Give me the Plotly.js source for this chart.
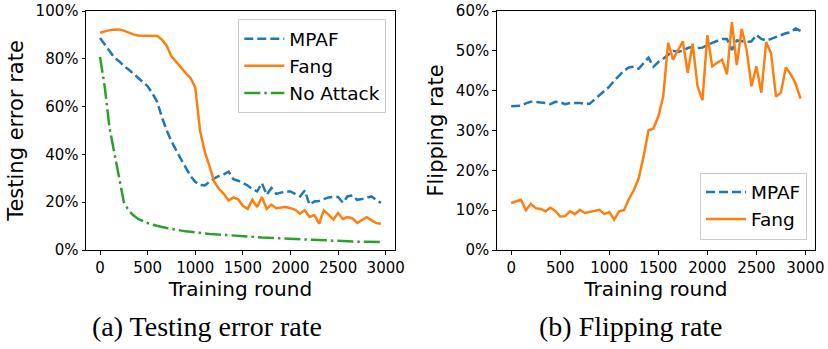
<!DOCTYPE html>
<html>
<head>
<meta charset="utf-8">
<script src="https://cdn.plot.ly/plotly-3.0.1.min.js"></script>
<style>html,body{margin:0;padding:0;background:#fff;}#chart{width:828px;height:349px;}</style>
</head>
<body>
<div id="chart"></div>
<script>
const rounds = [0,50,100,150,200,250,300,350,400,450,500,550,600,650,700,750,800,850,900,950,
  1000,1050,1100,1150,1200,1250,1300,1350,1400,1450,1500,1550,1600,1650,1700,1750,1800,1850,1900,1950,
  2000,2050,2100,2150,2200,2250,2300,2350,2400,2450,2500,2550,2600,2650,2700,2750,2800,2850,2900,2950];

// (a) Testing error rate
const errMPAF = [0.887,0.86,0.83,0.805,0.79,0.77,0.755,0.738,0.722,0.706,0.685,0.655,0.62,0.555,0.5,0.455,0.415,0.38,0.345,0.31,
  0.285,0.272,0.27,0.287,0.3,0.31,0.317,0.328,0.296,0.29,0.28,0.27,0.255,0.245,0.28,0.231,0.259,0.235,0.24,0.245,
  0.245,0.235,0.224,0.249,0.19,0.203,0.205,0.213,0.22,0.222,0.222,0.198,0.225,0.228,0.21,0.213,0.217,0.224,0.21,0.197];
const errFang = [0.909,0.915,0.92,0.922,0.923,0.918,0.91,0.902,0.898,0.897,0.897,0.897,0.895,0.88,0.855,0.81,0.785,0.76,0.74,0.72,
  0.68,0.5,0.41,0.35,0.285,0.255,0.235,0.207,0.22,0.212,0.185,0.172,0.21,0.18,0.222,0.172,0.19,0.175,0.176,0.18,
  0.175,0.168,0.152,0.166,0.138,0.146,0.11,0.166,0.148,0.127,0.155,0.13,0.138,0.132,0.113,0.125,0.137,0.125,0.113,0.11];
const errNoAttack = [0.808,0.68,0.51,0.41,0.3,0.2,0.165,0.145,0.13,0.12,0.113,0.106,0.1,0.096,0.092,0.088,0.085,0.081,0.078,0.076,
  0.073,0.071,0.069,0.067,0.066,0.065,0.063,0.062,0.06,0.058,0.057,0.056,0.055,0.054,0.052,0.051,0.05,0.049,0.048,0.047,
  0.046,0.045,0.044,0.043,0.042,0.041,0.04,0.039,0.038,0.038,0.037,0.036,0.036,0.035,0.035,0.034,0.034,0.034,0.034,0.033];

// (b) Flipping rate
const flipMPAF = [0.361,0.361,0.362,0.368,0.372,0.372,0.371,0.369,0.366,0.372,0.371,0.366,0.369,0.369,0.369,0.367,0.367,0.378,0.388,0.398,
  0.41,0.425,0.437,0.45,0.458,0.46,0.455,0.468,0.483,0.46,0.472,0.48,0.49,0.5,0.498,0.5,0.507,0.51,0.507,0.508,
  0.515,0.52,0.527,0.53,0.53,0.502,0.526,0.524,0.522,0.524,0.54,0.53,0.526,0.53,0.535,0.54,0.544,0.547,0.556,0.55];
const flipFang = [0.118,0.122,0.126,0.1,0.116,0.105,0.103,0.097,0.106,0.098,0.084,0.085,0.097,0.09,0.101,0.093,0.096,0.098,0.101,0.09,
  0.095,0.076,0.097,0.1,0.128,0.15,0.18,0.235,0.3,0.305,0.335,0.385,0.52,0.478,0.5,0.524,0.445,0.518,0.411,0.376,
  0.539,0.461,0.47,0.478,0.441,0.572,0.464,0.555,0.503,0.411,0.461,0.395,0.522,0.493,0.385,0.395,0.458,0.441,0.418,0.38];

const xTicks = [0,500,1000,1500,2000,2500,3000];
const xTitle = "Training round";
const captions = ["(a) Testing error rate", "(b) Flipping rate"];

const C_BLUE = "#1f77b4", C_ORANGE = "#ff7f0e", C_GREEN = "#2ca02c";
const LW = 2.5;
const DASH = "9px,4px";
const DASHDOT = "16px,4px,2.5px,4px";
const FONT = "DejaVu Sans";

const traces = [
  {x: rounds, y: errMPAF, name: "MPAF", type: "scatter", mode: "lines", xaxis: "x", yaxis: "y", legend: "legend",
   line: {color: C_BLUE, width: LW, dash: DASH}},
  {x: rounds, y: errFang, name: "Fang", type: "scatter", mode: "lines", xaxis: "x", yaxis: "y", legend: "legend",
   line: {color: C_ORANGE, width: LW}},
  {x: rounds, y: errNoAttack, name: "No Attack", type: "scatter", mode: "lines", xaxis: "x", yaxis: "y", legend: "legend",
   line: {color: C_GREEN, width: LW, dash: DASHDOT}},
  {x: rounds, y: flipMPAF, name: "MPAF", type: "scatter", mode: "lines", xaxis: "x2", yaxis: "y2", legend: "legend2",
   line: {color: C_BLUE, width: LW, dash: DASH}},
  {x: rounds, y: flipFang, name: "Fang", type: "scatter", mode: "lines", xaxis: "x2", yaxis: "y2", legend: "legend2",
   line: {color: C_ORANGE, width: LW}}
];

const W = 828, H = 349;
const L = 85.5, R = 13, T = 10.7, B = 98.5;
const PW = W - L - R, PH = H - T - B;
function fx(px){ return (px - L) / PW; }
function fy(py){ return 1 - (py - T) / PH; }

const baseX = {
  range: [-147.5, 3097.5], tickvals: xTicks, ticktext: xTicks.map(String),
  showgrid: false, zeroline: false, showline: true, linecolor: "#000", linewidth: 1, mirror: true,
  ticks: "outside", ticklen: 3.5, tickwidth: 1, tickcolor: "#000",
  tickfont: {family: FONT, size: 15, color: "#000"},
  title: {text: xTitle, font: {family: FONT, size: 20, color: "#000"}, standoff: 3}
};
const baseY = {
  showgrid: false, zeroline: false, showline: true, linecolor: "#000", linewidth: 1, mirror: true,
  ticks: "outside", ticklen: 3.5, tickwidth: 1, tickcolor: "#000", tickformat: ".0%",
  tickfont: {family: FONT, size: 15, color: "#000"}
};

const legendBase = {
  bgcolor: "rgba(255,255,255,0.8)", bordercolor: "#cccccc", borderwidth: 1,
  font: {family: FONT, size: 18.5, color: "#000"}, itemwidth: 40
};

const layout = {
  width: W, height: H,
  margin: {l: L, r: R, t: T, b: B, pad: 0},
  paper_bgcolor: "#fff", plot_bgcolor: "#fff",
  showlegend: true,
  xaxis: Object.assign({}, baseX, {domain: [0, fx(394.7)], anchor: "y"}),
  yaxis: Object.assign({}, baseY, {domain: [0, 1], range: [0, 1], tickvals: [0,0.2,0.4,0.6,0.8,1.0], anchor: "x",
    title: {text: "Testing error rate", font: {family: FONT, size: 21, color: "#000"}, standoff: 6}}),
  xaxis2: Object.assign({}, baseX, {domain: [fx(496.5), 1], anchor: "y2"}),
  yaxis2: Object.assign({}, baseY, {domain: [0, 1], range: [0, 0.6], tickvals: [0,0.1,0.2,0.3,0.4,0.5,0.6], anchor: "x2",
    title: {text: "Flipping rate", font: {family: FONT, size: 21, color: "#000"}, standoff: 6}}),
  legend: Object.assign({}, legendBase, {x: fx(386), xanchor: "right", y: fy(19), yanchor: "top"}),
  legend2: Object.assign({}, legendBase, {x: fx(807), xanchor: "right", y: fy(240), yanchor: "bottom"}),
  annotations: [
    {text: captions[0], xref: "paper", yref: "paper", x: fx(207), y: fy(327),
     xanchor: "center", yanchor: "middle", showarrow: false,
     font: {family: "Liberation Serif", size: 28, color: "#000"}},
    {text: captions[1], xref: "paper", yref: "paper", x: fx(631), y: fy(327),
     xanchor: "center", yanchor: "middle", showarrow: false,
     font: {family: "Liberation Serif", size: 28, color: "#000"}}
  ]
};

Plotly.newPlot("chart", traces, layout, {staticPlot: true, displayModeBar: false});
</script>
</body>
</html>
